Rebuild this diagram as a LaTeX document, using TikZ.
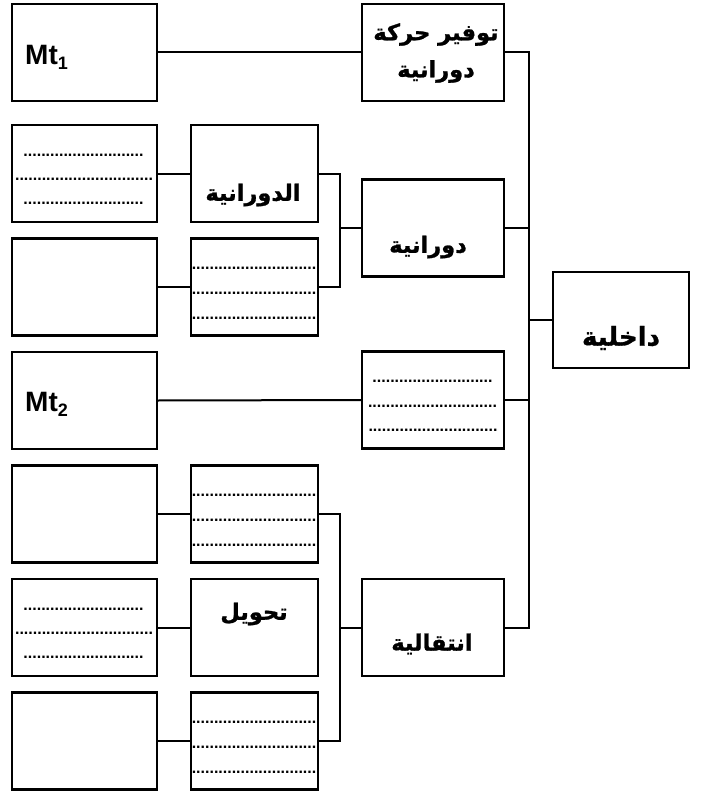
\documentclass[tikz,border=0pt]{standalone}
\usepackage{fontspec}
\setmainfont{Liberation Sans}
\newfontfamily\arabicfont[Script=Arabic, BoldFeatures={FakeBold=1.2}]{DejaVu Sans}
\TeXXeTstate=1
\begin{document}
\begin{tikzpicture}[x=1pt,y=-1pt,
  boxA/.style={draw, line width=2.2pt, minimum width=145pt, minimum height=97pt, inner sep=0pt, outer sep=0pt},
  boxB/.style={draw, line width=2.2pt, minimum width=127pt, minimum height=97pt, inner sep=0pt, outer sep=0pt},
  boxC/.style={draw, line width=2.2pt, minimum width=142pt, minimum height=97pt, inner sep=0pt, outer sep=0pt},
  boxD/.style={draw, line width=2.2pt, minimum width=136pt, minimum height=96pt, inner sep=0pt, outer sep=0pt},
  conn/.style={line width=2pt},
  artxt/.style={inner sep=0pt, align=center, font=\arabicfont\bfseries\fontsize{22.5}{37}\selectfont},
  dots/.style={inner sep=0pt, font=\bfseries\fontsize{16}{16}\selectfont},
  mttxt/.style={inner sep=0pt, anchor=west, font=\bfseries\fontsize{28}{28}\selectfont}
]
\useasboundingbox (0,0) rectangle (702,792);

% left column
\node[boxA] (l1) at (84.5,52.5) {};
\node[boxA] (l2) at (84.5,173.5) {};
\node[boxA] (l3) at (84.5,287) {};
\node[boxA] (l4) at (84.5,400.5) {};
\node[boxA] (l5) at (84.5,514) {};
\node[boxA] (l6) at (84.5,627.5) {};
\node[boxA] (l7) at (84.5,741) {};

% middle column
\node[boxB] (m2) at (254.5,173.5) {};
\node[boxB] (m3) at (254.5,287) {};
\node[boxB] (m5) at (254.5,514) {};
\node[boxB] (m6) at (254.5,627.5) {};
\node[boxB] (m7) at (254.5,741) {};

% third column
\node[boxC] (t1) at (433,52.5) {};
\node[boxC] (t2) at (433,228) {};
\node[boxC] (t3) at (433,400) {};
\node[boxC] (t4) at (433,627.5) {};

% right
\node[boxD] (r) at (621,320) {};

% texts
\node[mttxt] (mt1) at (25,57) {Mt\raisebox{-5pt}{\fontsize{18}{18}\selectfont 1}};
\node[mttxt] (mt2) at (25,404) {Mt\raisebox{-5pt}{\fontsize{18}{18}\selectfont 2}};
\node[artxt] (tx1) at (436,53) {\beginR توفير حركة\endR\\\beginR دورانية\endR};
\node[artxt] (tx2) at (253,195) {\beginR الدورانية\endR};
\node[artxt] (tx3) at (428,247) {\beginR دورانية\endR};
\node[artxt, font=\arabicfont\bfseries\fontsize{26}{30}\selectfont] (tx4) at (621,338) {\beginR داخلية\endR};
\node[artxt] (tx5) at (254,614) {\beginR تحويل\endR};
\node[artxt] (tx6) at (432,644) {\beginR انتقالية\endR};

% dots in left boxes
\foreach \b/\y in {l2/125, l6/579}{
  \node[dots] at (83.5,\y+30) {...........................};
  \node[dots] at (84,\y+54) {...............................};
  \node[dots] at (83.5,\y+78) {...........................};
}
% dots in middle boxes
\foreach \b/\y in {m3/239, m5/466, m7/693}{
  \node[dots] at (254,\y+29) {............................};
  \node[dots] at (254,\y+54) {............................};
  \node[dots] at (254,\y+79) {............................};
}
% dots in third column box
\node[dots] at (432.5,381) {...........................};
\node[dots] at (432.5,406) {.............................};
\node[dots] at (433,430) {.............................};

% connectors
\coordinate (b1) at (340,0);
\coordinate (b2) at (529,0);
\draw[conn] (l1.east) -- (t1.west);
\draw[conn] (l2.east) -- (m2.west);
\draw[conn] (l3.east) -- (m3.west);
\draw[conn] (l4.east) -- (t3.west);
\draw[conn] (l5.east) -- (m5.west);
\draw[conn] (l6.east) -- (m6.west);
\draw[conn] (l7.east) -- (m7.west);
\draw[conn] (m2.east) -| (b1 |- m3.east) -- (m3.east);
\draw[conn] (b1 |- t2.west) -- (t2.west);
\draw[conn] (m5.east) -| (b1 |- m7.east) -- (m7.east);
\draw[conn] (b1 |- t4.west) -- (t4.west);
\draw[conn] (t1.east) -| (b2 |- t4.east) -- (t4.east);
\draw[conn] (t2.east) -- (b2 |- t2.east);
\draw[conn] (t3.east) -- (b2 |- t3.east);
\draw[conn] (b2 |- r.west) -- (r.west);
\end{tikzpicture}
\end{document}
